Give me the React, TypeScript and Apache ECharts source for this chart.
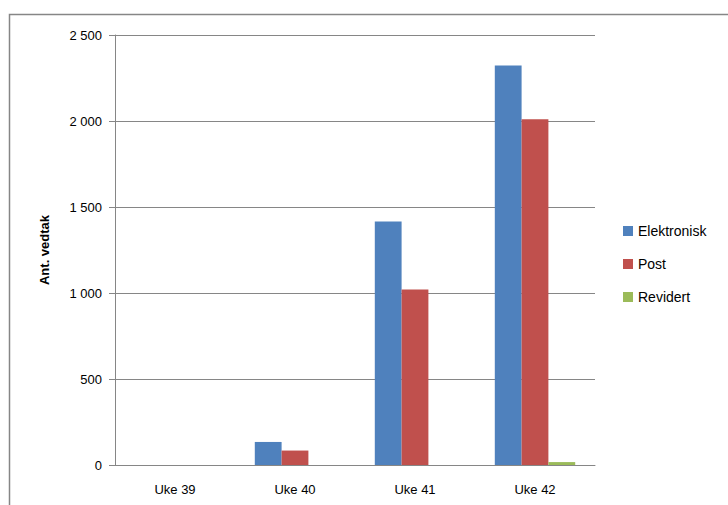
import React, { useEffect, useRef } from "react";
import * as echarts from "echarts";

const categories = ["Uke 39", "Uke 40", "Uke 41", "Uke 42"];
const elektronisk = [0, 134, 1415, 2322];
const post = [0, 84, 1020, 2010];
const revidert = [0, 0, 0, 17];
const seriesNames = ["Elektronisk", "Post", "Revidert"];
const yTicks = [0, 500, 1000, 1500, 2000, 2500];

const FONT = "'Liberation Sans', 'DejaVu Sans', sans-serif";

function fmt(v: number): string {
  return String(v).replace(/\B(?=(\d{3})+(?!\d))/g, " ");
}

export default function App() {
  const ref = useRef<HTMLDivElement>(null);
  useEffect(() => {
    if (!ref.current) return;
    const chart = echarts.init(ref.current, undefined, { renderer: "svg" });
    const colors = ["#4F81BD", "#C0504D", "#9BBB59"];
    const data = [elektronisk, post, revidert];
    chart.setOption({
      animation: false,
      textStyle: { fontFamily: FONT },
      graphic: [
        {
          type: "rect",
          shape: { x: 9.5, y: 14.5, width: 760, height: 600 },
          style: { fill: "none", stroke: "#868686", lineWidth: 1.5 },
          silent: true,
        },
      ],
      grid: { left: 115, right: 133, top: 35, bottom: 40 },
      legend: {
        orient: "vertical",
        left: 618,
        top: 219,
        itemWidth: 10,
        itemHeight: 10,
        itemGap: 19,
        icon: "rect",
        textStyle: { fontSize: 14, color: "#000", fontFamily: FONT },
        data: seriesNames,
      },
      xAxis: {
        type: "category",
        data: categories,
        axisLine: { lineStyle: { color: "#868686", width: 1 } },
        axisTick: { show: false },
        axisLabel: { fontSize: 13, color: "#000", margin: 18, fontFamily: FONT },
      },
      yAxis: {
        type: "value",
        min: yTicks[0],
        max: yTicks[yTicks.length - 1],
        interval: 500,
        name: "Ant. vedtak",
        nameLocation: "middle",
        nameGap: 64,
        nameTextStyle: { fontSize: 13, fontWeight: "bold", color: "#000", fontFamily: FONT },
        axisLine: { show: true, lineStyle: { color: "#868686", width: 1 } },
        axisTick: { show: true, length: 6, lineStyle: { color: "#868686" } },
        splitLine: { lineStyle: { color: "#868686", width: 1 } },
        axisLabel: {
          fontSize: 13,
          color: "#000",
          margin: 13,
          fontFamily: FONT,
          formatter: (v: number) => fmt(v),
        },
      },
      series: seriesNames.map((name, i) => ({
        name,
        type: "bar",
        data: data[i],
        barGap: "0%",
        barCategoryGap: "33%",
        itemStyle: { color: colors[i] },
      })),
    });
    return () => chart.dispose();
  }, []);
  return (
    <div
      ref={ref}
      style={{ position: "absolute", left: 0, top: 0, width: 728, height: 505, background: "#fff" }}
    />
  );
}
